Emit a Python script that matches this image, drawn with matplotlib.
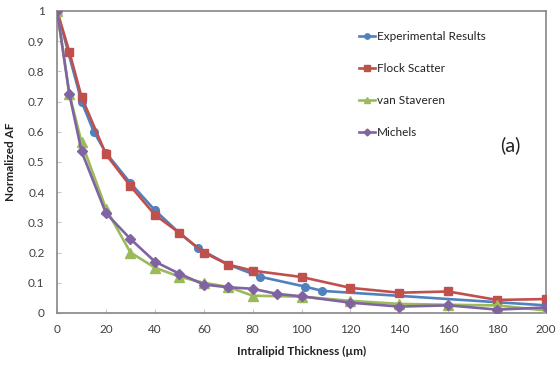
import matplotlib
matplotlib.use("Agg")
import matplotlib.pyplot as plt

# values
exp_x = [0, 10, 15, 20, 30, 40, 50, 57.5, 70, 83, 101.5, 108.5, 200]
exp_y = [1.0, 0.70, 0.60, 0.53, 0.43, 0.34, 0.265, 0.215, 0.16, 0.12, 0.087, 0.073, 0.025]

flock_x = [0, 5, 10, 20, 30, 40, 50, 60, 70, 80, 100, 120, 140, 160, 180, 200]
flock_y = [1.0, 0.865, 0.715, 0.525, 0.42, 0.325, 0.265, 0.2, 0.16, 0.14, 0.119, 0.083, 0.067, 0.071, 0.043, 0.046]

stav_x = [0, 5, 10, 20, 30, 40, 50, 60, 70, 80, 100, 120, 140, 160, 180, 200]
stav_y = [1.0, 0.725, 0.565, 0.345, 0.2, 0.15, 0.12, 0.1, 0.086, 0.057, 0.054, 0.04, 0.03, 0.027, 0.025, 0.008]

mich_x = [0, 5, 10, 20, 30, 40, 50, 60, 70, 80, 90, 100, 120, 140, 160, 180, 200]
mich_y = [1.0, 0.725, 0.535, 0.33, 0.245, 0.17, 0.13, 0.094, 0.085, 0.08, 0.063, 0.055, 0.034, 0.021, 0.025, 0.011, 0.018]

xticks = list(range(0, 201, 20))
yticks = [i / 10 for i in range(11)]
ylabels = ["0"] + ["%.1f" % v for v in yticks[1:-1]] + ["1"]

plt.rcParams['font.family'] = ['Lato', 'DejaVu Sans']

fig = plt.figure(figsize=(5.6, 3.66), dpi=100)
ax = fig.add_axes([0.102, 0.145, 0.873, 0.825])

lw = 1.9
ax.plot(exp_x, exp_y, color="#4F81BD", lw=lw, marker="o", ms=5.5, label="Experimental Results", zorder=3)
ax.plot(flock_x, flock_y, color="#C0504D", lw=lw, marker="s", ms=6, label="Flock Scatter", zorder=4)
ax.plot(stav_x, stav_y, color="#9BBB59", lw=lw, marker="^", ms=6.5, label="van Staveren", zorder=5)
ax.plot(mich_x, mich_y, color="#8064A2", lw=lw, marker="D", ms=5, label="Michels", zorder=6)

ax.set_xlim(0, 200)
ax.set_ylim(0, 1)
ax.set_xticks(xticks)
ax.set_yticks(yticks)
ax.set_yticklabels(ylabels)
ax.tick_params(axis="both", labelsize=8.5, colors="#c8c8c8", labelcolor="#404040", length=3, direction="in")
ax.tick_params(axis="y", pad=9)
ax.tick_params(axis="x", pad=8)
for s in ax.spines.values():
    s.set_color("#868686")
    s.set_linewidth(1.2)

ax.set_xlabel("Intralipid Thickness (µm)", fontsize=8.5, fontweight="bold", color="#222222", labelpad=8)
ax.set_ylabel("Normalized AF", fontsize=8.5, fontweight="bold", color="#222222", labelpad=9)

leg = ax.legend(loc="upper left", bbox_to_anchor=(0.595, 0.97), frameon=False, fontsize=8.5,
                handlelength=1.4, handletextpad=0.15, labelspacing=1.8, markerscale=0.7)
for t in leg.get_texts():
    t.set_color("#222222")

ax.text(0.928, 0.555, "(a)", transform=ax.transAxes, fontsize=14.5, ha="center", va="center", color="#222222")

fig.savefig("out.png", dpi=100)
